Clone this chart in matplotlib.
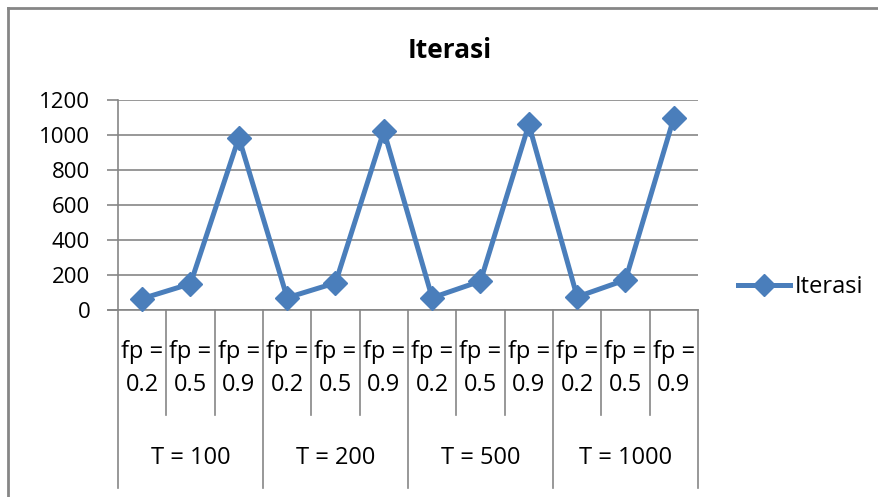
import matplotlib.pyplot as plt
import matplotlib.transforms as mtransforms
from matplotlib.lines import Line2D

plt.rcParams['font.family'] = ['Open Sans', 'DejaVu Sans']

# data
t_groups = ['T = 100', 'T = 200', 'T = 500', 'T = 1000']
fp_values = ['0.2', '0.5', '0.9']
iterasi = [65, 150, 985, 70, 155, 1023, 70, 165, 1060, 75, 172, 1098]

blue = '#4A7EBB'
grey = '#868686'

fig = plt.figure(figsize=(8.79, 4.97), dpi=100)
ax = fig.add_axes([118 / 879, 1 - 310 / 497, 580 / 879, 210 / 497])

n = len(iterasi)
xs = [i + 0.5 for i in range(n)]
ax.plot(xs, iterasi, color=blue, lw=3.6, marker='D', markersize=12,
        markerfacecolor=blue, markeredgecolor=blue, label='Iterasi', clip_on=False, zorder=3)

ax.set_xlim(0, n)
ax.set_ylim(0, 1200)
ax.set_yticks(range(0, 1201, 200))
ax.yaxis.grid(True, color=grey, lw=1.2)
ax.set_axisbelow(True)
ax.tick_params(axis='y', length=8, width=1.2, color=grey, labelsize=16, pad=12)
ax.set_xticks([])
for s in ['top', 'right']:
    ax.spines[s].set_visible(False)
ax.spines['left'].set_color(grey)
ax.spines['bottom'].set_color(grey)
ax.spines['left'].set_linewidth(1.2)
ax.spines['bottom'].set_linewidth(1.2)

# multi-level category axis
trans = mtransforms.blended_transform_factory(ax.transData, ax.transAxes)
ax.plot([-10 / 48.3, 0], [0, 0], transform=trans, color=grey, lw=1.2, clip_on=False)
for i in range(n + 1):
    bottom = -0.848 if i % 3 == 0 else -0.5
    ax.plot([i, i], [0, bottom], transform=trans, color=grey, lw=1.2, clip_on=False)
for i in range(n):
    ax.text(i + 0.5, -0.2, 'fp =', transform=trans, ha='center', va='center', fontsize=17)
    ax.text(i + 0.5, -0.357, fp_values[i % 3], transform=trans, ha='center', va='center',
            fontsize=17)
for g, name in enumerate(t_groups):
    ax.text(g * 3 + 1.5, -0.705, name, transform=trans, ha='center', va='center', fontsize=17)

fig.text(450 / 879, 1 - 50 / 497, 'Iterasi', ha='center', va='center', fontsize=19,
         fontweight='bold')

# legend
handle = Line2D([], [], color=blue, lw=3.6, marker='D', markersize=11)
fig.legend([handle], ['Iterasi'], loc='center left', bbox_to_anchor=(717 / 879, 1 - 287 / 497),
           frameon=False, fontsize=17, handlelength=2.2, handletextpad=0.2)

# chart frame (left and top edges visible)
fig.add_artist(Line2D([8 / 879, 8 / 879], [0, 1 - 8 / 497], color=grey, lw=2))
fig.add_artist(Line2D([8 / 879, 1], [1 - 8 / 497, 1 - 8 / 497], color=grey, lw=2))

fig.savefig('out.png', dpi=100)
